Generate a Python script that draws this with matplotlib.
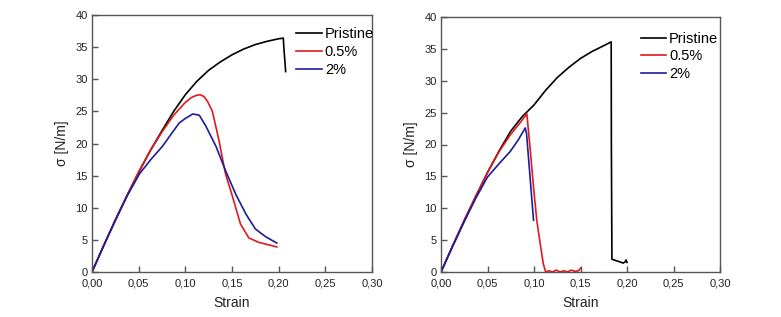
import matplotlib
matplotlib.use("Agg")
import matplotlib.pyplot as plt

plt.rcParams['font.family'] = ['Liberation Sans', 'DejaVu Sans']

# ---- Left panel data ----
l_pr_x = [0.0, 0.0125, 0.025, 0.0375, 0.05, 0.0625, 0.075, 0.0875, 0.10, 0.1125, 0.125, 0.1375,
          0.15, 0.1625, 0.175, 0.1875, 0.20, 0.205, 0.2055, 0.2075]
l_pr_y = [0.0, 4.1, 8.1, 11.9, 15.5, 18.9, 22.0, 25.0, 27.6, 29.7, 31.4, 32.7,
          33.8, 34.7, 35.4, 35.9, 36.3, 36.4, 35.0, 31.2]

l_05_x = [0.0, 0.0125, 0.025, 0.0375, 0.05, 0.0625, 0.075, 0.0875, 0.10, 0.107, 0.112, 0.116,
          0.120, 0.124, 0.129, 0.136, 0.143, 0.150, 0.159, 0.168, 0.179, 0.190, 0.198]
l_05_y = [0.0, 4.1, 8.1, 11.9, 15.6, 18.9, 21.8, 24.4, 26.4, 27.2, 27.5, 27.6,
          27.3, 26.5, 25.0, 20.5, 15.3, 12.0, 7.5, 5.3, 4.6, 4.2, 3.9]

l_2_x = [0.0, 0.0125, 0.025, 0.0375, 0.051, 0.063, 0.0757, 0.0855, 0.0935, 0.100, 0.108, 0.115,
         0.122, 0.133, 0.143, 0.154, 0.165, 0.175, 0.186, 0.198]
l_2_y = [0.0, 4.1, 8.0, 11.8, 15.3, 17.5, 19.6, 21.6, 23.2, 23.9, 24.6, 24.4,
         22.7, 19.5, 15.8, 12.1, 9.0, 6.7, 5.5, 4.5]

# ---- Right panel data ----
r_pr_x = [0.0, 0.0125, 0.025, 0.0375, 0.05, 0.0625, 0.075, 0.0875, 0.10, 0.1125, 0.125, 0.1375,
          0.15, 0.1625, 0.175, 0.183, 0.1832, 0.1838, 0.190, 0.196, 0.198, 0.199, 0.200]
r_pr_y = [0.0, 4.1, 8.1, 11.9, 15.6, 19.0, 22.1, 24.4, 26.2, 28.5, 30.5, 32.1,
          33.5, 34.6, 35.5, 36.1, 20.0, 2.0, 1.7, 1.4, 1.6, 1.9, 1.5]

r_05_x = [0.0, 0.0125, 0.025, 0.0375, 0.05, 0.0625, 0.075, 0.085, 0.0923, 0.096, 0.0995, 0.103,
          0.1067, 0.110, 0.1125, 0.116, 0.120, 0.124, 0.128, 0.132, 0.136, 0.140, 0.144, 0.148, 0.150]
r_05_y = [0.0, 4.1, 8.1, 11.9, 15.6, 18.9, 21.6, 23.4, 24.8, 19.1, 13.3, 8.1,
          4.4, 1.3, 0.0, 0.2, 0.0, 0.3, 0.0, 0.2, 0.0, 0.3, 0.1, 0.2, 0.6]

r_2_x = [0.0, 0.0125, 0.025, 0.0375, 0.05, 0.0625, 0.0744, 0.083, 0.0906, 0.092, 0.0995]
r_2_y = [0.0, 4.0, 7.9, 11.6, 14.9, 17.0, 18.9, 20.7, 22.6, 21.7, 8.1]

labels = ['Pristine', '0.5%', '2%']
colors = ['#000000', '#e0191e', '#1c1c9c']

x_ticks = [0.0, 0.05, 0.10, 0.15, 0.20, 0.25, 0.30]
x_tick_labels = ['0,00', '0,05', '0,10', '0,15', '0,20', '0,25', '0,30']
y_ticks = [0, 5, 10, 15, 20, 25, 30, 35, 40]

fig = plt.figure(figsize=(7.81, 3.17), dpi=100)
W, H = 781, 317
ax1 = fig.add_axes([92 / W, 1 - 272 / H, (372 - 92) / W, (272 - 15) / H])
ax2 = fig.add_axes([441 / W, 1 - 272 / H, (720 - 441) / W, (272 - 17) / H])

panels = [
    (ax1, [(l_pr_x, l_pr_y), (l_05_x, l_05_y), (l_2_x, l_2_y)], (0.730, 0.952)),
    (ax2, [(r_pr_x, r_pr_y), (r_05_x, r_05_y), (r_2_x, r_2_y)], (0.716, 0.942)),
]

for ax, series, anchor in panels:
    for (xs, ys), lab, col in zip(series, labels, colors):
        ax.plot(xs, ys, color=col, lw=1.2, label=lab)
    ax.set_xlim(0, 0.30)
    ax.set_ylim(0, 40)
    ax.set_xticks(x_ticks)
    ax.set_xticklabels(x_tick_labels)
    ax.set_yticks(y_ticks)
    ax.tick_params(direction='in', length=4, width=1, color='#555555',
                   labelsize=8, labelcolor='#222222')
    ax.tick_params(axis='x', pad=5)
    ax.tick_params(axis='y', pad=3)
    for sp in ax.spines.values():
        sp.set_color('#555555')
        sp.set_linewidth(1.0)
    ax.set_xlabel('Strain', fontsize=10, labelpad=5, color='#222222')
    ax.set_ylabel('σ [N/m]', fontsize=10, labelpad=5, color='#222222')
    ax.legend(loc='upper left', frameon=False, fontsize=10.5, handlelength=1.75,
              handletextpad=0.2, labelspacing=0.25, borderaxespad=0, borderpad=0,
              bbox_to_anchor=anchor)

fig.savefig('out.png', dpi=100)
